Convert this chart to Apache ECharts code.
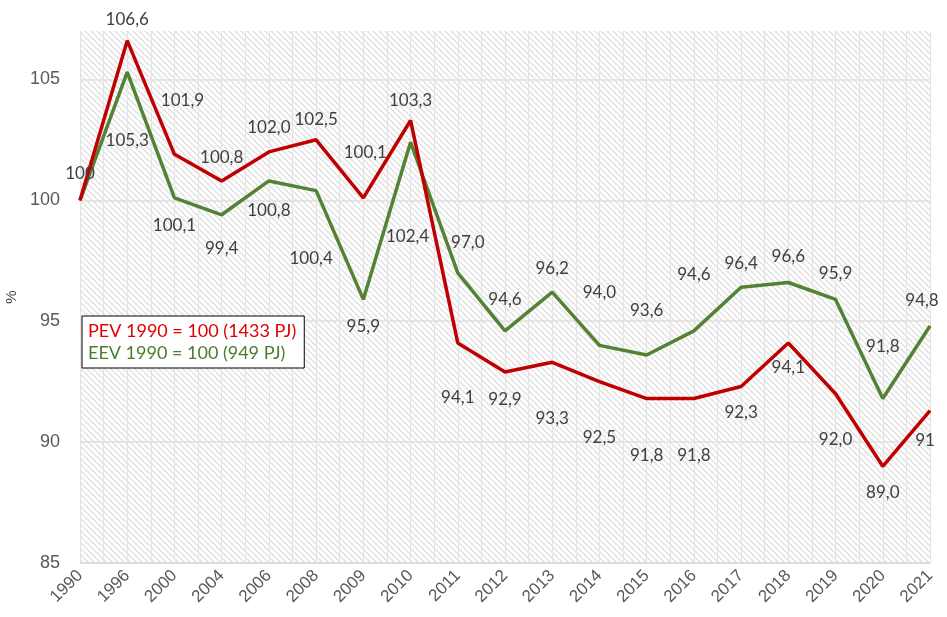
<!DOCTYPE html>
<html>
<head>
<meta charset="utf-8">
<script src="https://cdn.jsdelivr.net/npm/echarts@6/dist/echarts.min.js"></script>
<style>
  html, body { margin: 0; padding: 0; background: #fff; }
  #chart { width: 947px; height: 617px; }
</style>
</head>
<body>
<div id="chart"></div>
<script>
// years on the x axis
var years = ['1990', '1996', '2000', '2004', '2006', '2008', '2009', '2010', '2011', '2012',
  '2013', '2014', '2015', '2016', '2017', '2018', '2019', '2020', '2021'];

// PEV index (1990 = 100)
var pev = [100, 106.6, 101.9, 100.8, 102.0, 102.5, 100.1, 103.3, 94.1, 92.9,
  93.3, 92.5, 91.8, 91.8, 92.3, 94.1, 92.0, 89.0, 91.3];

// EEV index (1990 = 100)
var eev = [100, 105.3, 100.1, 99.4, 100.8, 100.4, 95.9, 102.4, 97.0, 94.6,
  96.2, 94.0, 93.6, 94.6, 96.4, 96.6, 95.9, 91.8, 94.8];

var pevName = 'PEV 1990 = 100 (1433 PJ)';
var eevName = 'EEV 1990 = 100 (949 PJ)';

// label offsets (px) from each point, as placed in the original
var pevLabelOff = [[0, -27], [0, -21], [8, -54], [0, -23], [0, -24], [0, -20], [2, -45], [0, -20],
  [0, 55], [0, 28], [0, 56], [0, 56], [0, 57], [0, 57], [0, 26], [0, 25], [0, 46], [0, 26], [-5, 30]];
var eevLabelOff = [null, [0, 68], [0, 28], [0, 34], [0, 30], [-5, 68], [0, 27], [-3, 94],
  [10, -30], [0, -31], [0, -24], [0, -53], [0, -45], [0, -56], [0, -24], [0, -26], [0, -26], [0, -52], [-8, -26]];
var pevLabelText = { 0: '100', 18: '91' };

var fmt = function (v) { return v.toFixed(1).replace('.', ','); };

// hatch pattern for the plot background
var tile = document.createElement('canvas');
tile.width = 6; tile.height = 6;
var ctx = tile.getContext('2d');
ctx.fillStyle = '#ffffff';
ctx.fillRect(0, 0, 6, 6);
ctx.strokeStyle = '#e4e4e4';
ctx.lineWidth = 1.6;
[-6, 0, 6].forEach(function (x) {
  ctx.beginPath();
  ctx.moveTo(x, 0);
  ctx.lineTo(x + 6, 6);
  ctx.stroke();
});

function buildData(vals, offs, texts) {
  return vals.map(function (v, i) {
    var off = offs[i];
    if (!off) return { value: v, label: { show: false } };
    return {
      value: v,
      label: {
        offset: off,
        formatter: (texts && texts[i]) ? texts[i] : fmt(v)
      }
    };
  });
}

var labelStyle = {
  show: true,
  position: 'inside',
  color: '#404040',
  fontFamily: 'Lato',
  fontSize: 17
};

var option = {
  backgroundColor: '#ffffff',
  animation: false,
  grid: {
    left: 80, right: 17, top: 31, bottom: 54,
    outerBoundsMode: 'none',
    show: true,
    borderWidth: 0,
    backgroundColor: { image: tile, repeat: 'repeat' }
  },
  legend: {
    orient: 'vertical',
    left: 82, top: 316,
    backgroundColor: '#ffffff',
    borderColor: '#000000',
    borderWidth: 1,
    padding: [6, 8, 6, 0],
    itemWidth: 0, itemHeight: 0,
    itemGap: 4,
    selectedMode: false,
    textStyle: { fontFamily: 'Lato', fontSize: 18 },
    data: [
      { name: pevName, textStyle: { color: '#e00000' } },
      { name: eevName, textStyle: { color: '#4f7a2e' } }
    ]
  },
  xAxis: [{
    type: 'category',
    data: years,
    boundaryGap: false,
    axisLine: { lineStyle: { color: '#d9d9d9', width: 1.5 } },
    axisTick: { show: false },
    axisLabel: {
      rotate: 45,
      margin: 10,
      color: '#595959',
      fontFamily: 'Liberation Sans',
      fontSize: 17
    },
    splitLine: { show: false }
  }, {
    type: 'value',
    min: 0, max: 36, interval: 1,
    show: true,
    position: 'bottom',
    axisLine: { show: false },
    axisTick: { show: false },
    axisLabel: { show: false },
    splitLine: { show: true, lineStyle: { color: '#e3e3e3', width: 1 } }
  }],
  yAxis: {
    type: 'value',
    min: 85, max: 107, interval: 5,
    name: '%',
    nameLocation: 'middle',
    nameGap: 56,
    nameRotate: 90,
    nameTextStyle: { color: '#404040', fontFamily: 'Liberation Sans', fontSize: 15 },
    axisLine: { show: false },
    axisTick: { show: false },
    axisLabel: {
      color: '#595959',
      fontFamily: 'Liberation Sans',
      fontSize: 18,
      margin: 20,
      showMaxLabel: false
    },
    splitLine: { show: true, showMaxLine: false, lineStyle: { color: '#e0e0e0', width: 1.5 } }
  },
  series: [{
    name: eevName,
    type: 'line',
    data: buildData(eev, eevLabelOff),
    symbol: 'circle',
    symbolSize: 1,
    showSymbol: true,
    lineStyle: { color: '#548235', width: 3.5 },
    itemStyle: { color: '#548235' },
    label: labelStyle,
    z: 2
  }, {
    name: pevName,
    type: 'line',
    data: buildData(pev, pevLabelOff, pevLabelText),
    symbol: 'circle',
    symbolSize: 1,
    showSymbol: true,
    lineStyle: { color: '#c00000', width: 3.5 },
    itemStyle: { color: '#c00000' },
    label: labelStyle,
    z: 3
  }]
};

var chart = echarts.init(document.getElementById('chart'));
chart.setOption(option);
</script>
</body>
</html>
